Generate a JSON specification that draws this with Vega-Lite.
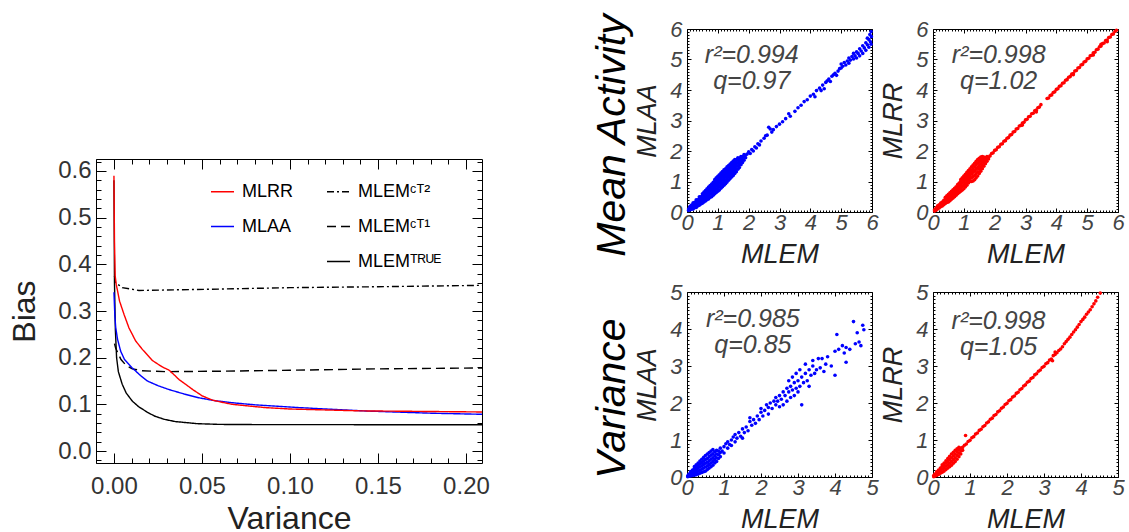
{
"$schema": "https://vega.github.io/schema/vega-lite/v6.json",
"background": "white",
"padding": {"left": 8, "top": 13, "right": 0, "bottom": 0},
"config": {
  "font": "Liberation Sans",
  "view": {"stroke": "#000", "strokeWidth": 1},
  "axis": {"domain": false, "grid": false, "tickColor": "#000", "tickWidth": 1, "labelFlush": false, "labelOverlap": false, "labelBound": false, "titleFontWeight": "normal"}
},
"datasets": {
  "lines": [
    {"method":"MLEMᵀᴿᵁᴱ","variance":0,"bias":0.58},
    {"method":"MLEMᵀᴿᵁᴱ","variance":0.0003,"bias":0.36},
    {"method":"MLEMᵀᴿᵁᴱ","variance":0.0008,"bias":0.26},
    {"method":"MLEMᵀᴿᵁᴱ","variance":0.0015,"bias":0.2},
    {"method":"MLEMᵀᴿᵁᴱ","variance":0.0025,"bias":0.17},
    {"method":"MLEMᵀᴿᵁᴱ","variance":0.0047,"bias":0.143},
    {"method":"MLEMᵀᴿᵁᴱ","variance":0.007,"bias":0.124},
    {"method":"MLEMᵀᴿᵁᴱ","variance":0.0104,"bias":0.107},
    {"method":"MLEMᵀᴿᵁᴱ","variance":0.014,"bias":0.095},
    {"method":"MLEMᵀᴿᵁᴱ","variance":0.019,"bias":0.083},
    {"method":"MLEMᵀᴿᵁᴱ","variance":0.023,"bias":0.075},
    {"method":"MLEMᵀᴿᵁᴱ","variance":0.0284,"bias":0.068},
    {"method":"MLEMᵀᴿᵁᴱ","variance":0.035,"bias":0.063},
    {"method":"MLEMᵀᴿᵁᴱ","variance":0.0473,"bias":0.0586},
    {"method":"MLEMᵀᴿᵁᴱ","variance":0.06,"bias":0.057},
    {"method":"MLEMᵀᴿᵁᴱ","variance":0.085,"bias":0.0565},
    {"method":"MLEMᵀᴿᵁᴱ","variance":0.15,"bias":0.0564},
    {"method":"MLEMᵀᴿᵁᴱ","variance":0.21,"bias":0.0564},
    {"method":"MLEMᶜᵀ¹","variance":0.0003,"bias":0.23},
    {"method":"MLEMᶜᵀ¹","variance":0.001,"bias":0.22},
    {"method":"MLEMᶜᵀ¹","variance":0.002,"bias":0.212},
    {"method":"MLEMᶜᵀ¹","variance":0.004,"bias":0.196},
    {"method":"MLEMᶜᵀ¹","variance":0.007,"bias":0.183},
    {"method":"MLEMᶜᵀ¹","variance":0.0104,"bias":0.176},
    {"method":"MLEMᶜᵀ¹","variance":0.016,"bias":0.172},
    {"method":"MLEMᶜᵀ¹","variance":0.029,"bias":0.17},
    {"method":"MLEMᶜᵀ¹","variance":0.06,"bias":0.171},
    {"method":"MLEMᶜᵀ¹","variance":0.1,"bias":0.173},
    {"method":"MLEMᶜᵀ¹","variance":0.15,"bias":0.176},
    {"method":"MLEMᶜᵀ¹","variance":0.21,"bias":0.178},
    {"method":"MLEMᶜᵀ²","variance":0.0003,"bias":0.375},
    {"method":"MLEMᶜᵀ²","variance":0.0009,"bias":0.361},
    {"method":"MLEMᶜᵀ²","variance":0.0047,"bias":0.35},
    {"method":"MLEMᶜᵀ²","variance":0.0142,"bias":0.344},
    {"method":"MLEMᶜᵀ²","variance":0.03,"bias":0.345},
    {"method":"MLEMᶜᵀ²","variance":0.06,"bias":0.347},
    {"method":"MLEMᶜᵀ²","variance":0.1,"bias":0.35},
    {"method":"MLEMᶜᵀ²","variance":0.15,"bias":0.352},
    {"method":"MLEMᶜᵀ²","variance":0.21,"bias":0.355},
    {"method":"MLAA","variance":0,"bias":0.34},
    {"method":"MLAA","variance":0.0005,"bias":0.29},
    {"method":"MLAA","variance":0.001,"bias":0.265},
    {"method":"MLAA","variance":0.002,"bias":0.24},
    {"method":"MLAA","variance":0.0038,"bias":0.214},
    {"method":"MLAA","variance":0.006,"bias":0.196},
    {"method":"MLAA","variance":0.0104,"bias":0.178},
    {"method":"MLAA","variance":0.015,"bias":0.162},
    {"method":"MLAA","variance":0.019,"bias":0.15},
    {"method":"MLAA","variance":0.025,"bias":0.14},
    {"method":"MLAA","variance":0.031,"bias":0.132},
    {"method":"MLAA","variance":0.04,"bias":0.122},
    {"method":"MLAA","variance":0.0483,"bias":0.114},
    {"method":"MLAA","variance":0.057,"bias":0.108},
    {"method":"MLAA","variance":0.067,"bias":0.1035},
    {"method":"MLAA","variance":0.08,"bias":0.099},
    {"method":"MLAA","variance":0.105,"bias":0.093},
    {"method":"MLAA","variance":0.143,"bias":0.0857},
    {"method":"MLAA","variance":0.18,"bias":0.081},
    {"method":"MLAA","variance":0.21,"bias":0.0786},
    {"method":"MLRR","variance":0,"bias":0.59},
    {"method":"MLRR","variance":0.0003,"bias":0.45},
    {"method":"MLRR","variance":0.0007,"bias":0.375},
    {"method":"MLRR","variance":0.0013,"bias":0.357},
    {"method":"MLRR","variance":0.0032,"bias":0.321},
    {"method":"MLRR","variance":0.0057,"bias":0.293},
    {"method":"MLRR","variance":0.0085,"bias":0.264},
    {"method":"MLRR","variance":0.0123,"bias":0.236},
    {"method":"MLRR","variance":0.0161,"bias":0.218},
    {"method":"MLRR","variance":0.0218,"bias":0.194},
    {"method":"MLRR","variance":0.0275,"bias":0.18},
    {"method":"MLRR","variance":0.0312,"bias":0.1736},
    {"method":"MLRR","variance":0.034,"bias":0.164},
    {"method":"MLRR","variance":0.037,"bias":0.153},
    {"method":"MLRR","variance":0.0407,"bias":0.143},
    {"method":"MLRR","variance":0.045,"bias":0.131},
    {"method":"MLRR","variance":0.0502,"bias":0.118},
    {"method":"MLRR","variance":0.056,"bias":0.109},
    {"method":"MLRR","variance":0.062,"bias":0.104},
    {"method":"MLRR","variance":0.0672,"bias":0.1},
    {"method":"MLRR","variance":0.075,"bias":0.097},
    {"method":"MLRR","variance":0.086,"bias":0.093},
    {"method":"MLRR","variance":0.1,"bias":0.09},
    {"method":"MLRR","variance":0.12,"bias":0.088},
    {"method":"MLRR","variance":0.14,"bias":0.086},
    {"method":"MLRR","variance":0.17,"bias":0.085},
    {"method":"MLRR","variance":0.21,"bias":0.0836}
  ],
  "ma_mlaa": [
    {"x":0.05,"y":0.05},{"x":0.05,"y":0.1},
    {"x":0.1,"y":0.07},{"x":0.1,"y":0.11},{"x":0.1,"y":0.15},{"x":0.1,"y":0.19},
    {"x":0.15,"y":0.09},{"x":0.15,"y":0.14},{"x":0.15,"y":0.19},{"x":0.15,"y":0.23},
    {"x":0.2,"y":0.1},{"x":0.2,"y":0.16},{"x":0.2,"y":0.21},{"x":0.2,"y":0.26},{"x":0.2,"y":0.3},
    {"x":0.25,"y":0.14},{"x":0.25,"y":0.2},{"x":0.25,"y":0.26},{"x":0.25,"y":0.32},
    {"x":0.3,"y":0.15},{"x":0.3,"y":0.22},{"x":0.3,"y":0.28},{"x":0.3,"y":0.34},{"x":0.3,"y":0.4},
    {"x":0.35,"y":0.2},{"x":0.35,"y":0.27},{"x":0.35,"y":0.33},{"x":0.35,"y":0.4},
    {"x":0.4,"y":0.22},{"x":0.4,"y":0.3},{"x":0.4,"y":0.37},{"x":0.4,"y":0.44},{"x":0.4,"y":0.5},
    {"x":0.45,"y":0.26},{"x":0.45,"y":0.34},{"x":0.45,"y":0.42},{"x":0.45,"y":0.5},
    {"x":0.5,"y":0.29},{"x":0.5,"y":0.37},{"x":0.5,"y":0.45},{"x":0.5,"y":0.53},{"x":0.5,"y":0.6},
    {"x":0.55,"y":0.33},{"x":0.55,"y":0.42},{"x":0.55,"y":0.5},{"x":0.55,"y":0.58},{"x":0.55,"y":0.65},
    {"x":0.6,"y":0.36},{"x":0.6,"y":0.45},{"x":0.6,"y":0.54},{"x":0.6,"y":0.62},{"x":0.6,"y":0.7},
    {"x":0.65,"y":0.4},{"x":0.65,"y":0.5},{"x":0.65,"y":0.6},{"x":0.65,"y":0.68},{"x":0.65,"y":0.76},
    {"x":0.7,"y":0.43},{"x":0.7,"y":0.53},{"x":0.7,"y":0.63},{"x":0.7,"y":0.72},{"x":0.7,"y":0.82},
    {"x":0.75,"y":0.48},{"x":0.75,"y":0.58},{"x":0.75,"y":0.68},{"x":0.75,"y":0.78},{"x":0.75,"y":0.87},
    {"x":0.8,"y":0.5},{"x":0.8,"y":0.61},{"x":0.8,"y":0.72},{"x":0.8,"y":0.82},{"x":0.8,"y":0.92},
    {"x":0.85,"y":0.55},{"x":0.85,"y":0.66},{"x":0.85,"y":0.77},{"x":0.85,"y":0.87},{"x":0.85,"y":0.97},
    {"x":0.9,"y":0.6},{"x":0.9,"y":0.7},{"x":0.9,"y":0.8},{"x":0.9,"y":0.9},{"x":0.9,"y":1.0},{"x":0.9,"y":1.06},
    {"x":0.95,"y":0.64},{"x":0.95,"y":0.75},{"x":0.95,"y":0.86},{"x":0.95,"y":0.96},{"x":0.95,"y":1.05},{"x":0.95,"y":1.12},
    {"x":1.0,"y":0.68},{"x":1.0,"y":0.8},{"x":1.0,"y":0.9},{"x":1.0,"y":1.0},{"x":1.0,"y":1.1},{"x":1.0,"y":1.17},
    {"x":1.05,"y":0.72},{"x":1.05,"y":0.84},{"x":1.05,"y":0.95},{"x":1.05,"y":1.05},{"x":1.05,"y":1.15},{"x":1.05,"y":1.22},
    {"x":1.1,"y":0.78},{"x":1.1,"y":0.9},{"x":1.1,"y":1.0},{"x":1.1,"y":1.1},{"x":1.1,"y":1.2},{"x":1.1,"y":1.28},
    {"x":1.15,"y":0.83},{"x":1.15,"y":0.94},{"x":1.15,"y":1.05},{"x":1.15,"y":1.15},{"x":1.15,"y":1.25},{"x":1.15,"y":1.33},
    {"x":1.2,"y":0.88},{"x":1.2,"y":1.0},{"x":1.2,"y":1.1},{"x":1.2,"y":1.2},{"x":1.2,"y":1.3},{"x":1.2,"y":1.38},
    {"x":1.25,"y":0.93},{"x":1.25,"y":1.04},{"x":1.25,"y":1.15},{"x":1.25,"y":1.25},{"x":1.25,"y":1.35},{"x":1.25,"y":1.42},
    {"x":1.3,"y":0.98},{"x":1.3,"y":1.1},{"x":1.3,"y":1.2},{"x":1.3,"y":1.3},{"x":1.3,"y":1.4},{"x":1.3,"y":1.48},
    {"x":1.35,"y":1.04},{"x":1.35,"y":1.15},{"x":1.35,"y":1.25},{"x":1.35,"y":1.35},{"x":1.35,"y":1.45},{"x":1.35,"y":1.52},
    {"x":1.4,"y":1.1},{"x":1.4,"y":1.2},{"x":1.4,"y":1.3},{"x":1.4,"y":1.4},{"x":1.4,"y":1.5},{"x":1.4,"y":1.57},
    {"x":1.45,"y":1.15},{"x":1.45,"y":1.25},{"x":1.45,"y":1.35},{"x":1.45,"y":1.45},{"x":1.45,"y":1.55},{"x":1.45,"y":1.62},
    {"x":1.5,"y":1.2},{"x":1.5,"y":1.3},{"x":1.5,"y":1.4},{"x":1.5,"y":1.5},{"x":1.5,"y":1.6},{"x":1.5,"y":1.67},
    {"x":1.55,"y":1.26},{"x":1.55,"y":1.36},{"x":1.55,"y":1.46},{"x":1.55,"y":1.56},{"x":1.55,"y":1.66},{"x":1.55,"y":1.72},
    {"x":1.6,"y":1.32},{"x":1.6,"y":1.42},{"x":1.6,"y":1.52},{"x":1.6,"y":1.62},{"x":1.6,"y":1.72},
    {"x":1.65,"y":1.4},{"x":1.65,"y":1.5},{"x":1.65,"y":1.6},{"x":1.65,"y":1.7},{"x":1.65,"y":1.78},
    {"x":1.7,"y":1.46},{"x":1.7,"y":1.56},{"x":1.7,"y":1.66},{"x":1.7,"y":1.76},
    {"x":1.75,"y":1.55},{"x":1.75,"y":1.65},{"x":1.75,"y":1.75},{"x":1.75,"y":1.82},
    {"x":1.8,"y":1.62},{"x":1.8,"y":1.72},{"x":1.8,"y":1.82},
    {"x":1.85,"y":1.7},{"x":1.85,"y":1.8},{"x":1.85,"y":1.88},
    {"x":1.9,"y":1.78},{"x":1.9,"y":1.86},
    {"x":1.95,"y":1.9},{"x":2.0,"y":1.97},{"x":2.05,"y":1.92},{"x":2.1,"y":2.05},{"x":2.15,"y":2.0},{"x":2.2,"y":2.14},{"x":2.25,"y":2.1},{"x":2.3,"y":2.24},{"x":2.35,"y":2.2},{"x":2.4,"y":2.33},{"x":2.5,"y":2.42},{"x":2.55,"y":2.5},{"x":2.6,"y":2.52},{"x":2.65,"y":2.78},{"x":2.7,"y":2.72},{"x":2.75,"y":2.62},{"x":2.8,"y":2.7},{"x":2.9,"y":2.8},{"x":3.0,"y":2.88},{"x":3.1,"y":2.96},{"x":3.2,"y":3.06},{"x":3.3,"y":3.22},{"x":3.35,"y":3.14},{"x":3.5,"y":3.3},{"x":3.6,"y":3.42},{"x":3.7,"y":3.5},{"x":3.8,"y":3.62},{"x":3.9,"y":3.68},{"x":4.0,"y":3.8},{"x":4.1,"y":3.86},{"x":4.15,"y":3.78},{"x":4.2,"y":3.98},{"x":4.3,"y":4.06},{"x":4.35,"y":3.98},{"x":4.4,"y":4.16},{"x":4.45,"y":4.04},{"x":4.5,"y":4.25},{"x":4.55,"y":4.3},{"x":4.6,"y":4.36},{"x":4.65,"y":4.28},{"x":4.7,"y":4.45},{"x":4.75,"y":4.5},{"x":4.8,"y":4.55},{"x":4.85,"y":4.48},{"x":4.9,"y":4.62},{"x":4.95,"y":4.7},{"x":5.0,"y":4.72},{"x":5.0,"y":4.85},{"x":5.05,"y":4.78},{"x":5.1,"y":4.9},{"x":5.15,"y":4.82},{"x":5.2,"y":4.95},{"x":5.25,"y":4.88},{"x":5.25,"y":5.05},{"x":5.3,"y":4.98},{"x":5.35,"y":5.1},{"x":5.4,"y":5.02},{"x":5.4,"y":5.2},{"x":5.45,"y":5.12},{"x":5.5,"y":5.25},{"x":5.5,"y":5.05},{"x":5.55,"y":5.2},{"x":5.6,"y":5.35},{"x":5.6,"y":5.12},{"x":5.65,"y":5.28},{"x":5.7,"y":5.45},{"x":5.7,"y":5.2},{"x":5.75,"y":5.38},{"x":5.8,"y":5.55},{"x":5.8,"y":5.3},{"x":5.85,"y":5.48},{"x":5.85,"y":5.7},{"x":5.9,"y":5.65},{"x":5.9,"y":5.4},{"x":5.93,"y":5.82},{"x":5.95,"y":5.58},{"x":5.97,"y":5.92},{"x":5.98,"y":5.75},{"x":5.97,"y":5.5}
  ],
  "ma_mlrr": [
    {"x":0.05,"y":0.03},{"x":0.05,"y":0.07},
    {"x":0.1,"y":0.06},{"x":0.1,"y":0.1},{"x":0.1,"y":0.14},
    {"x":0.15,"y":0.1},{"x":0.15,"y":0.15},{"x":0.15,"y":0.2},
    {"x":0.2,"y":0.13},{"x":0.2,"y":0.19},{"x":0.2,"y":0.24},
    {"x":0.25,"y":0.17},{"x":0.25,"y":0.23},{"x":0.25,"y":0.29},
    {"x":0.3,"y":0.2},{"x":0.3,"y":0.27},{"x":0.3,"y":0.33},
    {"x":0.35,"y":0.24},{"x":0.35,"y":0.31},{"x":0.35,"y":0.38},
    {"x":0.4,"y":0.28},{"x":0.4,"y":0.35},{"x":0.4,"y":0.42},{"x":0.4,"y":0.48},
    {"x":0.45,"y":0.31},{"x":0.45,"y":0.39},{"x":0.45,"y":0.47},{"x":0.45,"y":0.53},
    {"x":0.5,"y":0.33},{"x":0.5,"y":0.42},{"x":0.5,"y":0.5},{"x":0.5,"y":0.58},
    {"x":0.55,"y":0.37},{"x":0.55,"y":0.46},{"x":0.55,"y":0.55},{"x":0.55,"y":0.63},
    {"x":0.6,"y":0.42},{"x":0.6,"y":0.51},{"x":0.6,"y":0.6},{"x":0.6,"y":0.68},
    {"x":0.65,"y":0.46},{"x":0.65,"y":0.55},{"x":0.65,"y":0.64},{"x":0.65,"y":0.73},
    {"x":0.7,"y":0.5},{"x":0.7,"y":0.6},{"x":0.7,"y":0.69},{"x":0.7,"y":0.78},
    {"x":0.75,"y":0.55},{"x":0.75,"y":0.65},{"x":0.75,"y":0.74},{"x":0.75,"y":0.83},
    {"x":0.8,"y":0.6},{"x":0.8,"y":0.7},{"x":0.8,"y":0.8},{"x":0.8,"y":0.9},
    {"x":0.85,"y":0.64},{"x":0.85,"y":0.75},{"x":0.85,"y":0.85},{"x":0.85,"y":0.95},
    {"x":0.9,"y":0.68},{"x":0.9,"y":0.79},{"x":0.9,"y":0.9},{"x":0.9,"y":1.0},{"x":0.9,"y":1.06},
    {"x":0.95,"y":0.72},{"x":0.95,"y":0.84},{"x":0.95,"y":0.95},{"x":0.95,"y":1.05},{"x":0.95,"y":1.12},
    {"x":1.0,"y":0.76},{"x":1.0,"y":0.88},{"x":1.0,"y":1.0},{"x":1.0,"y":1.1},{"x":1.0,"y":1.18},
    {"x":1.05,"y":0.82},{"x":1.05,"y":0.94},{"x":1.05,"y":1.05},{"x":1.05,"y":1.15},{"x":1.05,"y":1.24},
    {"x":1.1,"y":0.88},{"x":1.1,"y":0.99},{"x":1.1,"y":1.1},{"x":1.1,"y":1.2},{"x":1.1,"y":1.3},
    {"x":1.15,"y":0.95},{"x":1.15,"y":1.05},{"x":1.15,"y":1.15},{"x":1.15,"y":1.26},{"x":1.15,"y":1.36},
    {"x":1.2,"y":1.0},{"x":1.2,"y":1.1},{"x":1.2,"y":1.2},{"x":1.2,"y":1.3},{"x":1.2,"y":1.42},
    {"x":1.25,"y":1.0},{"x":1.25,"y":1.12},{"x":1.25,"y":1.25},{"x":1.25,"y":1.36},{"x":1.25,"y":1.48},
    {"x":1.3,"y":1.02},{"x":1.3,"y":1.16},{"x":1.3,"y":1.3},{"x":1.3,"y":1.42},{"x":1.3,"y":1.54},
    {"x":1.35,"y":1.06},{"x":1.35,"y":1.2},{"x":1.35,"y":1.35},{"x":1.35,"y":1.48},{"x":1.35,"y":1.6},
    {"x":1.4,"y":1.12},{"x":1.4,"y":1.26},{"x":1.4,"y":1.4},{"x":1.4,"y":1.54},{"x":1.4,"y":1.66},
    {"x":1.45,"y":1.18},{"x":1.45,"y":1.32},{"x":1.45,"y":1.46},{"x":1.45,"y":1.6},{"x":1.45,"y":1.72},
    {"x":1.5,"y":1.26},{"x":1.5,"y":1.4},{"x":1.5,"y":1.52},{"x":1.5,"y":1.65},{"x":1.5,"y":1.76},
    {"x":1.55,"y":1.34},{"x":1.55,"y":1.46},{"x":1.55,"y":1.58},{"x":1.55,"y":1.7},{"x":1.55,"y":1.8},
    {"x":1.6,"y":1.42},{"x":1.6,"y":1.52},{"x":1.6,"y":1.64},{"x":1.6,"y":1.75},{"x":1.6,"y":1.82},
    {"x":1.65,"y":1.5},{"x":1.65,"y":1.6},{"x":1.65,"y":1.7},{"x":1.65,"y":1.8},
    {"x":1.7,"y":1.58},{"x":1.7,"y":1.68},{"x":1.7,"y":1.78},
    {"x":1.75,"y":1.66},{"x":1.75,"y":1.75},{"x":1.75,"y":1.82},
    {"x":1.8,"y":1.74},{"x":1.8,"y":1.8},
    {"x":1.85,"y":1.84},{"x":1.9,"y":1.92},{"x":1.95,"y":1.94},{"x":2.0,"y":2.02},{"x":2.05,"y":2.04},{"x":2.1,"y":2.12},{"x":2.15,"y":2.14},{"x":2.2,"y":2.22},{"x":2.25,"y":2.24},{"x":2.3,"y":2.32},{"x":2.35,"y":2.34},{"x":2.4,"y":2.42},{"x":2.45,"y":2.44},{"x":2.5,"y":2.52},{"x":2.55,"y":2.54},{"x":2.6,"y":2.62},{"x":2.65,"y":2.64},{"x":2.7,"y":2.72},{"x":2.75,"y":2.74},{"x":2.8,"y":2.82},{"x":2.85,"y":2.84},{"x":2.9,"y":2.92},{"x":2.9,"y":2.85},{"x":2.95,"y":2.94},{"x":3.0,"y":3.02},{"x":3.05,"y":3.04},{"x":3.1,"y":3.12},{"x":3.15,"y":3.14},{"x":3.2,"y":3.22},{"x":3.25,"y":3.24},{"x":3.3,"y":3.32},{"x":3.35,"y":3.34},{"x":3.35,"y":3.28},{"x":3.4,"y":3.42},{"x":3.45,"y":3.44},{"x":3.5,"y":3.52},{"x":3.7,"y":3.72},{"x":3.75,"y":3.74},{"x":3.8,"y":3.82},{"x":3.85,"y":3.84},{"x":3.9,"y":3.92},{"x":3.95,"y":3.94},{"x":4.0,"y":4.02},{"x":4.05,"y":4.04},{"x":4.1,"y":4.12},{"x":4.15,"y":4.14},{"x":4.2,"y":4.22},{"x":4.25,"y":4.24},{"x":4.3,"y":4.32},{"x":4.35,"y":4.34},{"x":4.4,"y":4.42},{"x":4.45,"y":4.44},{"x":4.5,"y":4.52},{"x":4.55,"y":4.54},{"x":4.55,"y":4.5},{"x":4.6,"y":4.62},{"x":4.65,"y":4.64},{"x":4.7,"y":4.72},{"x":4.75,"y":4.74},{"x":4.8,"y":4.82},{"x":4.85,"y":4.84},{"x":4.9,"y":4.92},{"x":4.95,"y":4.94},{"x":5.0,"y":5.02},{"x":5.05,"y":5.04},{"x":5.1,"y":5.12},{"x":5.15,"y":5.14},{"x":5.2,"y":5.22},{"x":5.2,"y":5.15},{"x":5.25,"y":5.24},{"x":5.3,"y":5.32},{"x":5.35,"y":5.34},{"x":5.4,"y":5.42},{"x":5.45,"y":5.44},{"x":5.45,"y":5.5},{"x":5.5,"y":5.52},{"x":5.55,"y":5.54},{"x":5.6,"y":5.62},{"x":5.65,"y":5.64},{"x":5.65,"y":5.58},{"x":5.7,"y":5.72},{"x":5.75,"y":5.74},{"x":5.8,"y":5.82},{"x":5.85,"y":5.84},{"x":5.9,"y":5.92},{"x":5.95,"y":5.96}
  ],
  "var_mlaa": [
    {"x":0.02,"y":0.01},{"x":0.02,"y":0.03},
    {"x":0.05,"y":0.02},{"x":0.05,"y":0.05},{"x":0.05,"y":0.08},
    {"x":0.1,"y":0.03},{"x":0.1,"y":0.07},{"x":0.1,"y":0.11},{"x":0.1,"y":0.15},
    {"x":0.15,"y":0.04},{"x":0.15,"y":0.09},{"x":0.15,"y":0.14},{"x":0.15,"y":0.19},
    {"x":0.2,"y":0.05},{"x":0.2,"y":0.11},{"x":0.2,"y":0.17},{"x":0.2,"y":0.23},{"x":0.2,"y":0.28},
    {"x":0.25,"y":0.06},{"x":0.25,"y":0.13},{"x":0.25,"y":0.2},{"x":0.25,"y":0.27},{"x":0.25,"y":0.33},
    {"x":0.3,"y":0.08},{"x":0.3,"y":0.16},{"x":0.3,"y":0.24},{"x":0.3,"y":0.31},{"x":0.3,"y":0.38},
    {"x":0.35,"y":0.1},{"x":0.35,"y":0.18},{"x":0.35,"y":0.27},{"x":0.35,"y":0.35},{"x":0.35,"y":0.43},
    {"x":0.4,"y":0.12},{"x":0.4,"y":0.21},{"x":0.4,"y":0.3},{"x":0.4,"y":0.39},{"x":0.4,"y":0.48},
    {"x":0.45,"y":0.14},{"x":0.45,"y":0.24},{"x":0.45,"y":0.34},{"x":0.45,"y":0.43},{"x":0.45,"y":0.53},
    {"x":0.5,"y":0.16},{"x":0.5,"y":0.27},{"x":0.5,"y":0.37},{"x":0.5,"y":0.47},{"x":0.5,"y":0.58},
    {"x":0.55,"y":0.2},{"x":0.55,"y":0.3},{"x":0.55,"y":0.4},{"x":0.55,"y":0.5},{"x":0.55,"y":0.62},
    {"x":0.6,"y":0.24},{"x":0.6,"y":0.34},{"x":0.6,"y":0.44},{"x":0.6,"y":0.55},{"x":0.6,"y":0.66},
    {"x":0.65,"y":0.28},{"x":0.65,"y":0.38},{"x":0.65,"y":0.48},{"x":0.65,"y":0.59},{"x":0.65,"y":0.7},
    {"x":0.7,"y":0.32},{"x":0.7,"y":0.42},{"x":0.7,"y":0.52},{"x":0.7,"y":0.63},{"x":0.7,"y":0.74},
    {"x":0.75,"y":0.38},{"x":0.75,"y":0.47},{"x":0.75,"y":0.57},{"x":0.75,"y":0.68},
    {"x":0.8,"y":0.42},{"x":0.8,"y":0.52},{"x":0.8,"y":0.62},{"x":0.8,"y":0.72},
    {"x":0.85,"y":0.5},{"x":0.85,"y":0.6},{"x":0.85,"y":0.7},
    {"x":0.9,"y":0.55},{"x":0.9,"y":0.66},{"x":0.9,"y":0.78},
    {"x":0.95,"y":0.7},{"x":1.0,"y":0.82},{"x":1.0,"y":0.65},{"x":1.05,"y":0.9},{"x":1.1,"y":0.78},{"x":1.1,"y":0.95},{"x":1.15,"y":0.88},{"x":1.2,"y":1.0},{"x":1.2,"y":0.85},{"x":1.25,"y":1.08},{"x":1.3,"y":0.95},{"x":1.3,"y":1.15},{"x":1.35,"y":1.05},{"x":1.4,"y":1.2},{"x":1.45,"y":1.1},{"x":1.5,"y":1.3},{"x":1.5,"y":1.05},{"x":1.55,"y":1.2},{"x":1.6,"y":1.35},{"x":1.65,"y":1.25},{"x":1.7,"y":1.5},{"x":1.7,"y":1.6},{"x":1.75,"y":1.4},{"x":1.8,"y":1.55},{"x":1.85,"y":1.45},{"x":1.9,"y":1.65},{"x":1.95,"y":1.55},{"x":2.0,"y":1.75},{"x":2.0,"y":1.85},
    {"x":2.05,"y":1.65},{"x":2.1,"y":1.8},{"x":2.15,"y":1.95},{"x":2.2,"y":1.7},{"x":2.2,"y":1.88},{"x":2.25,"y":2.0},{"x":2.3,"y":1.85},{"x":2.35,"y":2.05},{"x":2.4,"y":1.95},{"x":2.4,"y":2.15},{"x":2.45,"y":2.05},{"x":2.5,"y":1.9},{"x":2.5,"y":2.2},{"x":2.55,"y":2.1},{"x":2.6,"y":2.3},{"x":2.6,"y":1.95},{"x":2.65,"y":2.2},{"x":2.7,"y":2.4},{"x":2.7,"y":2.05},{"x":2.75,"y":2.3},{"x":2.75,"y":2.6},{"x":2.8,"y":2.15},{"x":2.8,"y":2.45},{"x":2.85,"y":2.35},{"x":2.85,"y":2.7},{"x":2.9,"y":2.2},{"x":2.9,"y":2.55},{"x":2.95,"y":2.4},{"x":2.95,"y":2.8},{"x":3.0,"y":2.3},{"x":3.0,"y":2.6},{"x":3.05,"y":2.9},{"x":3.05,"y":2.45},{"x":3.1,"y":2.7},{"x":3.1,"y":1.95},{"x":3.15,"y":2.55},{"x":3.2,"y":2.8},{"x":3.2,"y":3.05},{"x":3.25,"y":2.6},{"x":3.3,"y":2.9},{"x":3.3,"y":2.45},{"x":3.35,"y":2.75},{"x":3.4,"y":3.0},{"x":3.4,"y":3.15},{"x":3.45,"y":2.8},{"x":3.5,"y":2.9},{"x":3.55,"y":3.2},{"x":3.6,"y":2.95},{"x":3.65,"y":3.2},{"x":3.7,"y":2.85},{"x":3.75,"y":3.05},{"x":3.8,"y":3.25},{"x":3.9,"y":3.0},{"x":4.0,"y":2.75},{"x":4.0,"y":3.4},{"x":4.05,"y":3.85},{"x":4.1,"y":3.45},{"x":4.2,"y":3.55},{"x":4.25,"y":3.35},{"x":4.3,"y":3.1},{"x":4.3,"y":3.5},{"x":4.4,"y":3.45},{"x":4.5,"y":4.2},{"x":4.55,"y":3.6},{"x":4.6,"y":3.9},{"x":4.65,"y":3.65},{"x":4.7,"y":3.55},{"x":4.75,"y":4.1},{"x":4.78,"y":3.98}
  ],
  "var_mlrr": [
    {"x":0.02,"y":0.01},{"x":0.02,"y":0.04},
    {"x":0.05,"y":0.02},{"x":0.05,"y":0.05},{"x":0.05,"y":0.08},
    {"x":0.1,"y":0.04},{"x":0.1,"y":0.09},{"x":0.1,"y":0.14},
    {"x":0.15,"y":0.07},{"x":0.15,"y":0.13},{"x":0.15,"y":0.19},
    {"x":0.2,"y":0.1},{"x":0.2,"y":0.17},{"x":0.2,"y":0.24},
    {"x":0.25,"y":0.13},{"x":0.25,"y":0.21},{"x":0.25,"y":0.29},{"x":0.25,"y":0.33},
    {"x":0.3,"y":0.16},{"x":0.3,"y":0.25},{"x":0.3,"y":0.33},{"x":0.3,"y":0.38},
    {"x":0.35,"y":0.2},{"x":0.35,"y":0.29},{"x":0.35,"y":0.38},{"x":0.35,"y":0.44},
    {"x":0.4,"y":0.24},{"x":0.4,"y":0.33},{"x":0.4,"y":0.42},{"x":0.4,"y":0.5},
    {"x":0.45,"y":0.28},{"x":0.45,"y":0.37},{"x":0.45,"y":0.47},{"x":0.45,"y":0.56},
    {"x":0.5,"y":0.32},{"x":0.5,"y":0.42},{"x":0.5,"y":0.52},{"x":0.5,"y":0.62},
    {"x":0.55,"y":0.37},{"x":0.55,"y":0.47},{"x":0.55,"y":0.57},{"x":0.55,"y":0.67},
    {"x":0.6,"y":0.42},{"x":0.6,"y":0.52},{"x":0.6,"y":0.62},{"x":0.6,"y":0.72},
    {"x":0.65,"y":0.48},{"x":0.65,"y":0.58},{"x":0.65,"y":0.68},{"x":0.65,"y":0.76},
    {"x":0.7,"y":0.55},{"x":0.7,"y":0.64},{"x":0.7,"y":0.73},{"x":0.7,"y":0.8},
    {"x":0.75,"y":0.62},{"x":0.75,"y":0.7},{"x":0.75,"y":0.78},
    {"x":0.8,"y":0.72},{"x":0.8,"y":0.8},
    {"x":0.88,"y":1.12},
    {"x":0.85,"y":0.86},{"x":0.9,"y":0.89},{"x":0.95,"y":0.96},{"x":1.0,"y":0.99},{"x":1.05,"y":1.06},{"x":1.1,"y":1.09},{"x":1.15,"y":1.16},{"x":1.2,"y":1.19},{"x":1.25,"y":1.26},{"x":1.3,"y":1.29},{"x":1.35,"y":1.36},{"x":1.4,"y":1.39},{"x":1.45,"y":1.46},{"x":1.5,"y":1.49},{"x":1.55,"y":1.56},{"x":1.6,"y":1.59},{"x":1.65,"y":1.66},{"x":1.7,"y":1.69},{"x":1.75,"y":1.76},{"x":1.8,"y":1.79},{"x":1.85,"y":1.86},{"x":1.9,"y":1.89},{"x":1.95,"y":1.96},{"x":2.0,"y":1.99},{"x":2.05,"y":2.06},{"x":2.1,"y":2.09},{"x":2.15,"y":2.16},{"x":2.2,"y":2.19},{"x":2.25,"y":2.26},{"x":2.3,"y":2.29},{"x":2.35,"y":2.36},{"x":2.4,"y":2.39},{"x":2.45,"y":2.46},{"x":2.5,"y":2.49},{"x":2.55,"y":2.56},{"x":2.6,"y":2.59},{"x":2.65,"y":2.66},{"x":2.7,"y":2.69},{"x":2.75,"y":2.76},{"x":2.8,"y":2.79},{"x":2.85,"y":2.86},{"x":2.9,"y":2.89},{"x":2.95,"y":2.96},{"x":3.0,"y":2.99},{"x":3.05,"y":3.06},{"x":3.1,"y":3.09},{"x":3.15,"y":3.16},{"x":3.2,"y":3.19},{"x":3.23,"y":3.14},{"x":3.25,"y":3.28},{"x":3.3,"y":3.31},{"x":3.3,"y":3.38},{"x":3.35,"y":3.36},{"x":3.4,"y":3.42},{"x":3.45,"y":3.46},{"x":3.5,"y":3.52},{"x":3.55,"y":3.6},{"x":3.6,"y":3.66},{"x":3.65,"y":3.72},{"x":3.7,"y":3.78},{"x":3.75,"y":3.85},{"x":3.8,"y":3.92},{"x":3.85,"y":3.98},{"x":3.9,"y":4.05},{"x":3.95,"y":4.12},{"x":4.0,"y":4.2},{"x":4.05,"y":4.26},{"x":4.1,"y":4.32},{"x":4.15,"y":4.4},{"x":4.2,"y":4.46},{"x":4.25,"y":4.52},{"x":4.3,"y":4.6},{"x":4.35,"y":4.68},{"x":4.4,"y":4.76},{"x":4.45,"y":4.86},{"x":4.52,"y":4.97}
  ]
},
"spacing": 102,
"hconcat": [
  {
    "spacing": 0,
    "vconcat": [
      {
        "width": 386, "height": 129,
        "view": {"stroke": null},
        "data": {"values": [{}]},
        "mark": {"type": "point", "opacity": 0}
      },
      {
        "width": 386, "height": 304,
        "layer": [
          {
            "data": {"name": "lines"},
            "mark": {"type": "line", "strokeWidth": 1.4, "clip": true},
            "encoding": {
              "x": {"field": "variance", "type": "quantitative", "scale": {"domain": [-0.0102, 0.2091], "nice": false, "zero": false},
                    "axis": {"orient": "bottom", "values": [0, 0.05, 0.1, 0.15, 0.2], "format": ".2f", "tickSize": -10, "labelPadding": 21, "labelFontSize": 24, "labelColor": "#333", "title": "Variance", "titleFontSize": 32, "titleColor": "#222", "titlePadding": 5}},
              "y": {"field": "bias", "type": "quantitative", "scale": {"domain": [-0.0257, 0.6257], "nice": false, "zero": false},
                    "axis": {"orient": "left", "values": [0, 0.1, 0.2, 0.3, 0.4, 0.5, 0.6], "format": ".1f", "tickSize": -10, "labelPadding": 15, "labelFontSize": 24, "labelColor": "#333", "title": "Bias", "titleFontSize": 32, "titleColor": "#222", "titlePadding": 16}},
              "color": {"field": "method", "type": "nominal",
                        "scale": {"domain": ["MLRR", "MLAA", "blank", "MLEMᶜᵀ²", "MLEMᶜᵀ¹", "MLEMᵀᴿᵁᴱ"], "range": ["#ff0000", "#0000ff", "transparent", "#000000", "#000000", "#000000"]},
                        "legend": {"title": null, "orient": "none", "legendX": 114, "legendY": 150, "columns": 2, "symbolType": "stroke", "symbolSize": 529, "symbolStrokeWidth": 1.5, "labelFontSize": 18, "labelColor": "#000", "labelOffset": 7, "rowPadding": 13, "columnPadding": 30, "padding": 0, "labelLimit": 300, "labelExpr": "datum.label == 'blank' ? '' : datum.label"}},
              "strokeDash": {"field": "method", "type": "nominal",
                        "scale": {"domain": ["MLRR", "MLAA", "blank", "MLEMᶜᵀ²", "MLEMᶜᵀ¹", "MLEMᵀᴿᵁᴱ"], "range": [[1, 0], [1, 0], [1, 0], [7, 3, 2, 3], [9, 5], [1, 0]]},
                        "legend": {"title": null, "orient": "none", "legendX": 114, "legendY": 150, "columns": 2, "symbolType": "stroke", "symbolSize": 529, "symbolStrokeWidth": 1.5, "labelFontSize": 18, "labelColor": "#000", "labelOffset": 7, "rowPadding": 13, "columnPadding": 30, "padding": 0, "labelLimit": 300, "labelExpr": "datum.label == 'blank' ? '' : datum.label"}}
            }
          },
          {
            "data": {"values": [{"variance": 0, "bias": 0}]},
            "mark": {"type": "point", "opacity": 0},
            "encoding": {
              "x": {"field": "variance", "type": "quantitative", "axis": {"orient": "top", "values": [0, 0.05, 0.1, 0.15, 0.2], "tickSize": -10, "labels": false, "title": null}},
              "y": {"field": "bias", "type": "quantitative", "axis": {"orient": "right", "values": [0, 0.1, 0.2, 0.3, 0.4, 0.5, 0.6], "tickSize": -10, "labels": false, "title": null}}
            }
          },
          {
            "data": {"values": [{"variance": 0, "bias": 0}]},
            "mark": {"type": "point", "opacity": 0},
            "encoding": {
              "x": {"field": "variance", "type": "quantitative", "axis": {"orient": "bottom", "values": [-0.01,0,0.01,0.02,0.03,0.04,0.05,0.06,0.07,0.08,0.09,0.1,0.11,0.12,0.13,0.14,0.15,0.16,0.17,0.18,0.19,0.2], "tickSize": -5, "labels": false, "title": null}},
              "y": {"field": "bias", "type": "quantitative", "axis": {"orient": "left", "values": [-0.02,0,0.02,0.04,0.06,0.08,0.1,0.12,0.14,0.16,0.18,0.2,0.22,0.24,0.26,0.28,0.3,0.32,0.34,0.36,0.38,0.4,0.42,0.44,0.46,0.48,0.5,0.52,0.54,0.56,0.58,0.6,0.62], "tickSize": -5, "labels": false, "title": null}}
            }
          },
          {
            "data": {"values": [{"variance": 0, "bias": 0}]},
            "mark": {"type": "point", "opacity": 0},
            "encoding": {
              "x": {"field": "variance", "type": "quantitative", "axis": {"orient": "top", "values": [-0.01,0,0.01,0.02,0.03,0.04,0.05,0.06,0.07,0.08,0.09,0.1,0.11,0.12,0.13,0.14,0.15,0.16,0.17,0.18,0.19,0.2], "tickSize": -5, "labels": false, "title": null}},
              "y": {"field": "bias", "type": "quantitative", "axis": {"orient": "right", "values": [-0.02,0,0.02,0.04,0.06,0.08,0.1,0.12,0.14,0.16,0.18,0.2,0.22,0.24,0.26,0.28,0.3,0.32,0.34,0.36,0.38,0.4,0.42,0.44,0.46,0.48,0.5,0.52,0.54,0.56,0.58,0.6,0.62], "tickSize": -5, "labels": false, "title": null}}
            }
          }
        ],
        "resolve": {"axis": {"x": "independent", "y": "independent"}}
      }
    ]
  },
  {
    "spacing": 12,
    "vconcat": [
      {
        "title": {"text": "Mean Activity", "orient": "left", "anchor": "middle", "fontSize": 41, "fontStyle": "italic", "fontWeight": "normal", "color": "#000", "offset": -1, "dx": 7},
        "spacing": 0,
        "hconcat": [
          {
            "width": 185, "height": 183,
            "layer": [
              {"data": {"name": "ma_mlaa"}, "mark": {"type": "circle", "size": 13, "opacity": 1, "color": "#0000ff"},
               "encoding": {
                 "x": {"field": "x", "type": "quantitative", "scale": {"domain": [0, 6], "nice": false}, "axis": {"orient": "bottom", "values": [0,1,2,3,4,5,6], "tickSize": -4, "labelPadding": 4, "labelFontSize": 22, "labelFontStyle": "italic", "labelColor": "#444", "title": "MLEM", "titleFontSize": 27, "titleFontStyle": "italic", "titleColor": "#222", "titlePadding": 8}},
                 "y": {"field": "y", "type": "quantitative", "scale": {"domain": [0, 6], "nice": false}, "axis": {"orient": "left", "values": [0,1,2,3,4,5,6], "tickSize": -4, "labelPadding": 9, "labelFontSize": 22, "labelFontStyle": "italic", "labelColor": "#444", "title": "MLAA", "titleFontSize": 27, "titleFontStyle": "italic", "titleColor": "#222", "titlePadding": 8}}
               }},
              {"data": {"values": [{}]}, "mark": {"type": "text", "fontSize": 25, "fontStyle": "italic", "color": "#444", "align": "center", "baseline": "middle", "lineHeight": 26},
               "encoding": {"x": {"datum": 2.1, "type": "quantitative", "axis": null}, "y": {"datum": 5.15, "type": "quantitative", "axis": null}, "text": {"value": ["r²=0.994", "q=0.97"]}}},
              {"data": {"values": [{"x": 0, "y": 0}]}, "mark": {"type": "point", "opacity": 0},
               "encoding": {"x": {"field": "x", "type": "quantitative", "axis": {"orient": "top", "values": [0,1,2,3,4,5,6], "tickSize": -4, "labels": false, "title": null}},
                            "y": {"field": "y", "type": "quantitative", "axis": {"orient": "right", "values": [0,1,2,3,4,5,6], "tickSize": -4, "labels": false, "title": null}}}},
              {"data": {"values": [{"x": 0, "y": 0}]}, "mark": {"type": "point", "opacity": 0},
               "encoding": {"x": {"field": "x", "type": "quantitative", "axis": {"orient": "bottom", "values": [0.1,0.2,0.3,0.4,0.5,0.6,0.7,0.8,0.9,1.1,1.2,1.3,1.4,1.5,1.6,1.7,1.8,1.9,2.1,2.2,2.3,2.4,2.5,2.6,2.7,2.8,2.9,3.1,3.2,3.3,3.4,3.5,3.6,3.7,3.8,3.9,4.1,4.2,4.3,4.4,4.5,4.6,4.7,4.8,4.9,5.1,5.2,5.3,5.4,5.5,5.6,5.7,5.8,5.9], "tickSize": -2, "labels": false, "title": null}},
                            "y": {"field": "y", "type": "quantitative", "axis": {"orient": "left", "values": [0.1,0.2,0.3,0.4,0.5,0.6,0.7,0.8,0.9,1.1,1.2,1.3,1.4,1.5,1.6,1.7,1.8,1.9,2.1,2.2,2.3,2.4,2.5,2.6,2.7,2.8,2.9,3.1,3.2,3.3,3.4,3.5,3.6,3.7,3.8,3.9,4.1,4.2,4.3,4.4,4.5,4.6,4.7,4.8,4.9,5.1,5.2,5.3,5.4,5.5,5.6,5.7,5.8,5.9], "tickSize": -2, "labels": false, "title": null}}}},
              {"data": {"values": [{"x": 0, "y": 0}]}, "mark": {"type": "point", "opacity": 0},
               "encoding": {"x": {"field": "x", "type": "quantitative", "axis": {"orient": "top", "values": [0.1,0.2,0.3,0.4,0.5,0.6,0.7,0.8,0.9,1.1,1.2,1.3,1.4,1.5,1.6,1.7,1.8,1.9,2.1,2.2,2.3,2.4,2.5,2.6,2.7,2.8,2.9,3.1,3.2,3.3,3.4,3.5,3.6,3.7,3.8,3.9,4.1,4.2,4.3,4.4,4.5,4.6,4.7,4.8,4.9,5.1,5.2,5.3,5.4,5.5,5.6,5.7,5.8,5.9], "tickSize": -2, "labels": false, "title": null}},
                            "y": {"field": "y", "type": "quantitative", "axis": {"orient": "right", "values": [0.1,0.2,0.3,0.4,0.5,0.6,0.7,0.8,0.9,1.1,1.2,1.3,1.4,1.5,1.6,1.7,1.8,1.9,2.1,2.2,2.3,2.4,2.5,2.6,2.7,2.8,2.9,3.1,3.2,3.3,3.4,3.5,3.6,3.7,3.8,3.9,4.1,4.2,4.3,4.4,4.5,4.6,4.7,4.8,4.9,5.1,5.2,5.3,5.4,5.5,5.6,5.7,5.8,5.9], "tickSize": -2, "labels": false, "title": null}}}}
            ],
            "resolve": {"axis": {"x": "independent", "y": "independent"}}
          },
          {
            "width": 185, "height": 183,
            "layer": [
              {"data": {"name": "ma_mlrr"}, "mark": {"type": "circle", "size": 13, "opacity": 1, "color": "#ff0000"},
               "encoding": {
                 "x": {"field": "x", "type": "quantitative", "scale": {"domain": [0, 6], "nice": false}, "axis": {"orient": "bottom", "values": [0,1,2,3,4,5,6], "tickSize": -4, "labelPadding": 4, "labelFontSize": 22, "labelFontStyle": "italic", "labelColor": "#444", "title": "MLEM", "titleFontSize": 27, "titleFontStyle": "italic", "titleColor": "#222", "titlePadding": 8}},
                 "y": {"field": "y", "type": "quantitative", "scale": {"domain": [0, 6], "nice": false}, "axis": {"orient": "left", "values": [0,1,2,3,4,5,6], "tickSize": -4, "labelPadding": 9, "labelFontSize": 22, "labelFontStyle": "italic", "labelColor": "#444", "title": "MLRR", "titleFontSize": 27, "titleFontStyle": "italic", "titleColor": "#222", "titlePadding": 8}}
               }},
              {"data": {"values": [{}]}, "mark": {"type": "text", "fontSize": 25, "fontStyle": "italic", "color": "#444", "align": "center", "baseline": "middle", "lineHeight": 26},
               "encoding": {"x": {"datum": 2.13, "type": "quantitative", "axis": null}, "y": {"datum": 5.15, "type": "quantitative", "axis": null}, "text": {"value": ["r²=0.998", "q=1.02"]}}},
              {"data": {"values": [{"x": 0, "y": 0}]}, "mark": {"type": "point", "opacity": 0},
               "encoding": {"x": {"field": "x", "type": "quantitative", "axis": {"orient": "top", "values": [0,1,2,3,4,5,6], "tickSize": -4, "labels": false, "title": null}},
                            "y": {"field": "y", "type": "quantitative", "axis": {"orient": "right", "values": [0,1,2,3,4,5,6], "tickSize": -4, "labels": false, "title": null}}}},
              {"data": {"values": [{"x": 0, "y": 0}]}, "mark": {"type": "point", "opacity": 0},
               "encoding": {"x": {"field": "x", "type": "quantitative", "axis": {"orient": "bottom", "values": [0.1,0.2,0.3,0.4,0.5,0.6,0.7,0.8,0.9,1.1,1.2,1.3,1.4,1.5,1.6,1.7,1.8,1.9,2.1,2.2,2.3,2.4,2.5,2.6,2.7,2.8,2.9,3.1,3.2,3.3,3.4,3.5,3.6,3.7,3.8,3.9,4.1,4.2,4.3,4.4,4.5,4.6,4.7,4.8,4.9,5.1,5.2,5.3,5.4,5.5,5.6,5.7,5.8,5.9], "tickSize": -2, "labels": false, "title": null}},
                            "y": {"field": "y", "type": "quantitative", "axis": {"orient": "left", "values": [0.1,0.2,0.3,0.4,0.5,0.6,0.7,0.8,0.9,1.1,1.2,1.3,1.4,1.5,1.6,1.7,1.8,1.9,2.1,2.2,2.3,2.4,2.5,2.6,2.7,2.8,2.9,3.1,3.2,3.3,3.4,3.5,3.6,3.7,3.8,3.9,4.1,4.2,4.3,4.4,4.5,4.6,4.7,4.8,4.9,5.1,5.2,5.3,5.4,5.5,5.6,5.7,5.8,5.9], "tickSize": -2, "labels": false, "title": null}}}},
              {"data": {"values": [{"x": 0, "y": 0}]}, "mark": {"type": "point", "opacity": 0},
               "encoding": {"x": {"field": "x", "type": "quantitative", "axis": {"orient": "top", "values": [0.1,0.2,0.3,0.4,0.5,0.6,0.7,0.8,0.9,1.1,1.2,1.3,1.4,1.5,1.6,1.7,1.8,1.9,2.1,2.2,2.3,2.4,2.5,2.6,2.7,2.8,2.9,3.1,3.2,3.3,3.4,3.5,3.6,3.7,3.8,3.9,4.1,4.2,4.3,4.4,4.5,4.6,4.7,4.8,4.9,5.1,5.2,5.3,5.4,5.5,5.6,5.7,5.8,5.9], "tickSize": -2, "labels": false, "title": null}},
                            "y": {"field": "y", "type": "quantitative", "axis": {"orient": "right", "values": [0.1,0.2,0.3,0.4,0.5,0.6,0.7,0.8,0.9,1.1,1.2,1.3,1.4,1.5,1.6,1.7,1.8,1.9,2.1,2.2,2.3,2.4,2.5,2.6,2.7,2.8,2.9,3.1,3.2,3.3,3.4,3.5,3.6,3.7,3.8,3.9,4.1,4.2,4.3,4.4,4.5,4.6,4.7,4.8,4.9,5.1,5.2,5.3,5.4,5.5,5.6,5.7,5.8,5.9], "tickSize": -2, "labels": false, "title": null}}}}
            ],
            "resolve": {"axis": {"x": "independent", "y": "independent"}}
          }
        ]
      },
      {
        "title": {"text": "Variance", "orient": "left", "anchor": "middle", "fontSize": 41, "fontStyle": "italic", "fontWeight": "normal", "color": "#000", "offset": -1, "dx": 8},
        "spacing": 0,
        "hconcat": [
          {
            "width": 185, "height": 185,
            "layer": [
              {"data": {"name": "var_mlaa"}, "mark": {"type": "circle", "size": 13, "opacity": 1, "color": "#0000ff"},
               "encoding": {
                 "x": {"field": "x", "type": "quantitative", "scale": {"domain": [0, 5], "nice": false}, "axis": {"orient": "bottom", "values": [0,1,2,3,4,5], "tickSize": -4, "labelPadding": 4, "labelFontSize": 22, "labelFontStyle": "italic", "labelColor": "#444", "title": "MLEM", "titleFontSize": 27, "titleFontStyle": "italic", "titleColor": "#222", "titlePadding": 8}},
                 "y": {"field": "y", "type": "quantitative", "scale": {"domain": [0, 5], "nice": false}, "axis": {"orient": "left", "values": [0,1,2,3,4,5], "tickSize": -4, "labelPadding": 9, "labelFontSize": 22, "labelFontStyle": "italic", "labelColor": "#444", "title": "MLAA", "titleFontSize": 27, "titleFontStyle": "italic", "titleColor": "#222", "titlePadding": 8}}
               }},
              {"data": {"values": [{}]}, "mark": {"type": "text", "fontSize": 25, "fontStyle": "italic", "color": "#444", "align": "center", "baseline": "middle", "lineHeight": 26},
               "encoding": {"x": {"datum": 1.78, "type": "quantitative", "axis": null}, "y": {"datum": 4.27, "type": "quantitative", "axis": null}, "text": {"value": ["r²=0.985", "q=0.85"]}}},
              {"data": {"values": [{"x": 0, "y": 0}]}, "mark": {"type": "point", "opacity": 0},
               "encoding": {"x": {"field": "x", "type": "quantitative", "axis": {"orient": "top", "values": [0,1,2,3,4,5], "tickSize": -4, "labels": false, "title": null}},
                            "y": {"field": "y", "type": "quantitative", "axis": {"orient": "right", "values": [0,1,2,3,4,5], "tickSize": -4, "labels": false, "title": null}}}},
              {"data": {"values": [{"x": 0, "y": 0}]}, "mark": {"type": "point", "opacity": 0},
               "encoding": {"x": {"field": "x", "type": "quantitative", "axis": {"orient": "bottom", "values": [0.1,0.2,0.3,0.4,0.5,0.6,0.7,0.8,0.9,1.1,1.2,1.3,1.4,1.5,1.6,1.7,1.8,1.9,2.1,2.2,2.3,2.4,2.5,2.6,2.7,2.8,2.9,3.1,3.2,3.3,3.4,3.5,3.6,3.7,3.8,3.9,4.1,4.2,4.3,4.4,4.5,4.6,4.7,4.8,4.9], "tickSize": -2, "labels": false, "title": null}},
                            "y": {"field": "y", "type": "quantitative", "axis": {"orient": "left", "values": [0.1,0.2,0.3,0.4,0.5,0.6,0.7,0.8,0.9,1.1,1.2,1.3,1.4,1.5,1.6,1.7,1.8,1.9,2.1,2.2,2.3,2.4,2.5,2.6,2.7,2.8,2.9,3.1,3.2,3.3,3.4,3.5,3.6,3.7,3.8,3.9,4.1,4.2,4.3,4.4,4.5,4.6,4.7,4.8,4.9], "tickSize": -2, "labels": false, "title": null}}}},
              {"data": {"values": [{"x": 0, "y": 0}]}, "mark": {"type": "point", "opacity": 0},
               "encoding": {"x": {"field": "x", "type": "quantitative", "axis": {"orient": "top", "values": [0.1,0.2,0.3,0.4,0.5,0.6,0.7,0.8,0.9,1.1,1.2,1.3,1.4,1.5,1.6,1.7,1.8,1.9,2.1,2.2,2.3,2.4,2.5,2.6,2.7,2.8,2.9,3.1,3.2,3.3,3.4,3.5,3.6,3.7,3.8,3.9,4.1,4.2,4.3,4.4,4.5,4.6,4.7,4.8,4.9], "tickSize": -2, "labels": false, "title": null}},
                            "y": {"field": "y", "type": "quantitative", "axis": {"orient": "right", "values": [0.1,0.2,0.3,0.4,0.5,0.6,0.7,0.8,0.9,1.1,1.2,1.3,1.4,1.5,1.6,1.7,1.8,1.9,2.1,2.2,2.3,2.4,2.5,2.6,2.7,2.8,2.9,3.1,3.2,3.3,3.4,3.5,3.6,3.7,3.8,3.9,4.1,4.2,4.3,4.4,4.5,4.6,4.7,4.8,4.9], "tickSize": -2, "labels": false, "title": null}}}}
            ],
            "resolve": {"axis": {"x": "independent", "y": "independent"}}
          },
          {
            "width": 185, "height": 185,
            "layer": [
              {"data": {"name": "var_mlrr"}, "mark": {"type": "circle", "size": 13, "opacity": 1, "color": "#ff0000"},
               "encoding": {
                 "x": {"field": "x", "type": "quantitative", "scale": {"domain": [0, 5], "nice": false}, "axis": {"orient": "bottom", "values": [0,1,2,3,4,5], "tickSize": -4, "labelPadding": 4, "labelFontSize": 22, "labelFontStyle": "italic", "labelColor": "#444", "title": "MLEM", "titleFontSize": 27, "titleFontStyle": "italic", "titleColor": "#222", "titlePadding": 8}},
                 "y": {"field": "y", "type": "quantitative", "scale": {"domain": [0, 5], "nice": false}, "axis": {"orient": "left", "values": [0,1,2,3,4,5], "tickSize": -4, "labelPadding": 9, "labelFontSize": 22, "labelFontStyle": "italic", "labelColor": "#444", "title": "MLRR", "titleFontSize": 27, "titleFontStyle": "italic", "titleColor": "#222", "titlePadding": 8}}
               }},
              {"data": {"values": [{}]}, "mark": {"type": "text", "fontSize": 25, "fontStyle": "italic", "color": "#444", "align": "center", "baseline": "middle", "lineHeight": 26},
               "encoding": {"x": {"datum": 1.77, "type": "quantitative", "axis": null}, "y": {"datum": 4.22, "type": "quantitative", "axis": null}, "text": {"value": ["r²=0.998", "q=1.05"]}}},
              {"data": {"values": [{"x": 0, "y": 0}]}, "mark": {"type": "point", "opacity": 0},
               "encoding": {"x": {"field": "x", "type": "quantitative", "axis": {"orient": "top", "values": [0,1,2,3,4,5], "tickSize": -4, "labels": false, "title": null}},
                            "y": {"field": "y", "type": "quantitative", "axis": {"orient": "right", "values": [0,1,2,3,4,5], "tickSize": -4, "labels": false, "title": null}}}},
              {"data": {"values": [{"x": 0, "y": 0}]}, "mark": {"type": "point", "opacity": 0},
               "encoding": {"x": {"field": "x", "type": "quantitative", "axis": {"orient": "bottom", "values": [0.1,0.2,0.3,0.4,0.5,0.6,0.7,0.8,0.9,1.1,1.2,1.3,1.4,1.5,1.6,1.7,1.8,1.9,2.1,2.2,2.3,2.4,2.5,2.6,2.7,2.8,2.9,3.1,3.2,3.3,3.4,3.5,3.6,3.7,3.8,3.9,4.1,4.2,4.3,4.4,4.5,4.6,4.7,4.8,4.9], "tickSize": -2, "labels": false, "title": null}},
                            "y": {"field": "y", "type": "quantitative", "axis": {"orient": "left", "values": [0.1,0.2,0.3,0.4,0.5,0.6,0.7,0.8,0.9,1.1,1.2,1.3,1.4,1.5,1.6,1.7,1.8,1.9,2.1,2.2,2.3,2.4,2.5,2.6,2.7,2.8,2.9,3.1,3.2,3.3,3.4,3.5,3.6,3.7,3.8,3.9,4.1,4.2,4.3,4.4,4.5,4.6,4.7,4.8,4.9], "tickSize": -2, "labels": false, "title": null}}}},
              {"data": {"values": [{"x": 0, "y": 0}]}, "mark": {"type": "point", "opacity": 0},
               "encoding": {"x": {"field": "x", "type": "quantitative", "axis": {"orient": "top", "values": [0.1,0.2,0.3,0.4,0.5,0.6,0.7,0.8,0.9,1.1,1.2,1.3,1.4,1.5,1.6,1.7,1.8,1.9,2.1,2.2,2.3,2.4,2.5,2.6,2.7,2.8,2.9,3.1,3.2,3.3,3.4,3.5,3.6,3.7,3.8,3.9,4.1,4.2,4.3,4.4,4.5,4.6,4.7,4.8,4.9], "tickSize": -2, "labels": false, "title": null}},
                            "y": {"field": "y", "type": "quantitative", "axis": {"orient": "right", "values": [0.1,0.2,0.3,0.4,0.5,0.6,0.7,0.8,0.9,1.1,1.2,1.3,1.4,1.5,1.6,1.7,1.8,1.9,2.1,2.2,2.3,2.4,2.5,2.6,2.7,2.8,2.9,3.1,3.2,3.3,3.4,3.5,3.6,3.7,3.8,3.9,4.1,4.2,4.3,4.4,4.5,4.6,4.7,4.8,4.9], "tickSize": -2, "labels": false, "title": null}}}}
            ],
            "resolve": {"axis": {"x": "independent", "y": "independent"}}
          }
        ]
      }
    ]
  }
]
}
